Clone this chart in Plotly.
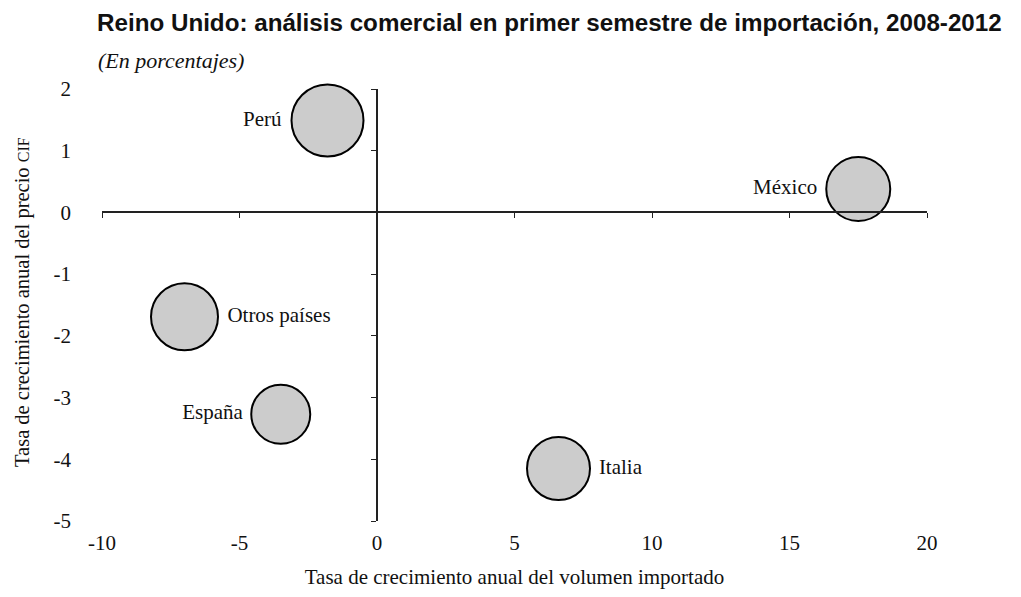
import plotly.graph_objects as go

countries = ["Perú", "México", "Otros países", "España", "Italia"]
volume_growth = [-1.8, 17.5, -7.0, -3.5, 6.6]
price_growth = [1.49, 0.38, -1.69, -3.27, -4.15]
bubble_size = [72, 64, 67, 59, 63]
label_pos = ["middle left", "middle left", "middle right", "middle left", "middle right"]

x_ticks = [-10, -5, 0, 5, 10, 15, 20]
x_ticktext = ["-10", "-5", "0", "5", "10", "15", "20"]
y_ticks = [-5, -4, -3, -2, -1, 0, 1, 2]
y_ticktext = ["-5", "-4", "-3", "-2", "-1", "0", "1", "2"]
x_range = [-10, 20]
y_range = [-5, 2]

serif = "Liberation Serif, Times New Roman, serif"
W, H = 1013, 589  # page body has an 8px margin

fig = go.Figure()
fig.add_trace(go.Scatter(
    x=volume_growth, y=price_growth, mode="markers+text",
    text=countries, textposition=label_pos,
    textfont=dict(family=serif, size=21, color="#111"),
    marker=dict(size=bubble_size, sizemode="diameter", color="#cccccc",
                line=dict(color="#000", width=2), opacity=1),
    cliponaxis=False, showlegend=False, hoverinfo="skip"))

# invisible trace on crossing axes
fig.add_trace(go.Scatter(x=[None], y=[None], xaxis="x2", yaxis="y2", showlegend=False))

x_pos = (0 - y_range[0]) / (y_range[1] - y_range[0])
y_pos = (0 - x_range[0]) / (x_range[1] - x_range[0])

fig.update_layout(
    width=W, height=H,
    paper_bgcolor="white", plot_bgcolor="white",
    margin=dict(l=94, r=94, t=81, b=62),
    xaxis=dict(range=x_range, tickvals=x_ticks, ticktext=x_ticktext,
               showgrid=False, zeroline=False,
               showline=False, ticks="", ticklabelstandoff=7,
               tickfont=dict(family=serif, size=21, color="#111"),
               title=dict(text="Tasa de crecimiento anual del volumen importado",
                          font=dict(family=serif, size=21, color="#111"), standoff=15)),
    yaxis=dict(range=y_range, tickvals=y_ticks, ticktext=y_ticktext,
               showgrid=False, zeroline=False,
               showline=False, ticks="", ticklabelstandoff=30,
               tickfont=dict(family=serif, size=21, color="#111")),
    xaxis2=dict(range=x_range, tickvals=x_ticks, overlaying="x", anchor="free",
                position=x_pos, side="bottom", showline=True, linecolor="#222",
                linewidth=1.5, ticks="outside", ticklen=5, tickcolor="#222",
                showticklabels=False, showgrid=False, zeroline=False),
    yaxis2=dict(range=y_range, tickvals=y_ticks, overlaying="y", anchor="free",
                position=y_pos, side="left", showline=True, linecolor="#222",
                linewidth=1.5, ticks="outside", ticklen=5, tickcolor="#222",
                showticklabels=False, showgrid=False, zeroline=False),
    annotations=[
        dict(text="<b>Reino Unido: análisis comercial en primer semestre de importación, 2008-2012</b>",
             xref="paper", yref="paper", x=-0.009, y=1.0 + 67 / 438, xanchor="left", yanchor="middle",
             showarrow=False, font=dict(family="Liberation Sans, Arial", size=24.2, color="#111")),
        dict(text="<i>(En porcentajes)</i>",
             xref="paper", yref="paper", x=-0.007, y=1.0 + 29 / 438, xanchor="left", yanchor="middle",
             showarrow=False, font=dict(family=serif, size=22, color="#111")),
        dict(text="Tasa de crecimiento anual del precio <span style='font-size:16px'>CIF</span>",
             xref="paper", yref="paper", x=-80 / 825, y=(527 - 305) / 438,
             xanchor="center", yanchor="middle", textangle=-90,
             showarrow=False, font=dict(family=serif, size=20.5, color="#111")),
    ],
)

fig.write_html("out.html")
